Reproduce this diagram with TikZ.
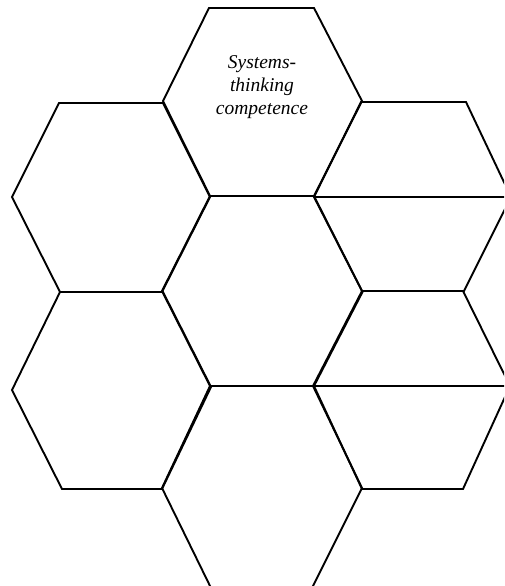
\documentclass[tikz,border=0pt]{standalone}
\usepackage{fontspec}
\setmainfont{Liberation Serif}
\begin{document}
\begin{tikzpicture}[x=1pt,y=-1pt,
  hexline/.style={line width=1.9pt,line join=miter},
  label/.style={font=\fontsize{19.5}{23}\selectfont\itshape,align=center,inner sep=0pt}]
\useasboundingbox (0,0) rectangle (504,586);
\clip (0,0) rectangle (504,586);
% top centre
\draw[hexline] (209,8) -- (314,8) -- (362,101) -- (314,196) -- (210,196) -- (163,101) -- cycle;
% upper left
\draw[hexline] (59,103) -- (163,103) -- (210,197) -- (162,292) -- (60,292) -- (12,197) -- cycle;
% upper right
\draw[hexline] (361,102) -- (466,102) -- (511,197) -- (464,291) -- (362,291) -- (314,197) -- cycle;
\draw[hexline] (314,197) -- (511,197);
% centre middle
\draw[hexline] (210,196) -- (314,196) -- (362,291) -- (313,386) -- (210,386) -- (162,291) -- cycle;
% lower left
\draw[hexline] (60,292) -- (163,292) -- (211,387) -- (162,489) -- (62,489) -- (12,390) -- cycle;
% lower right
\draw[hexline] (363,291) -- (463,291) -- (510,386) -- (463,489) -- (362,489) -- (314,386) -- cycle;
\draw[hexline] (314,386) -- (510,386);
% bottom centre
\draw[hexline] (210,386) -- (313,386) -- (362,488) -- (311,590) -- (212,590) -- (162,488) -- cycle;
\node[label] (title) at (262,87) {Systems-\\thinking\\competence};
\end{tikzpicture}
\end{document}
